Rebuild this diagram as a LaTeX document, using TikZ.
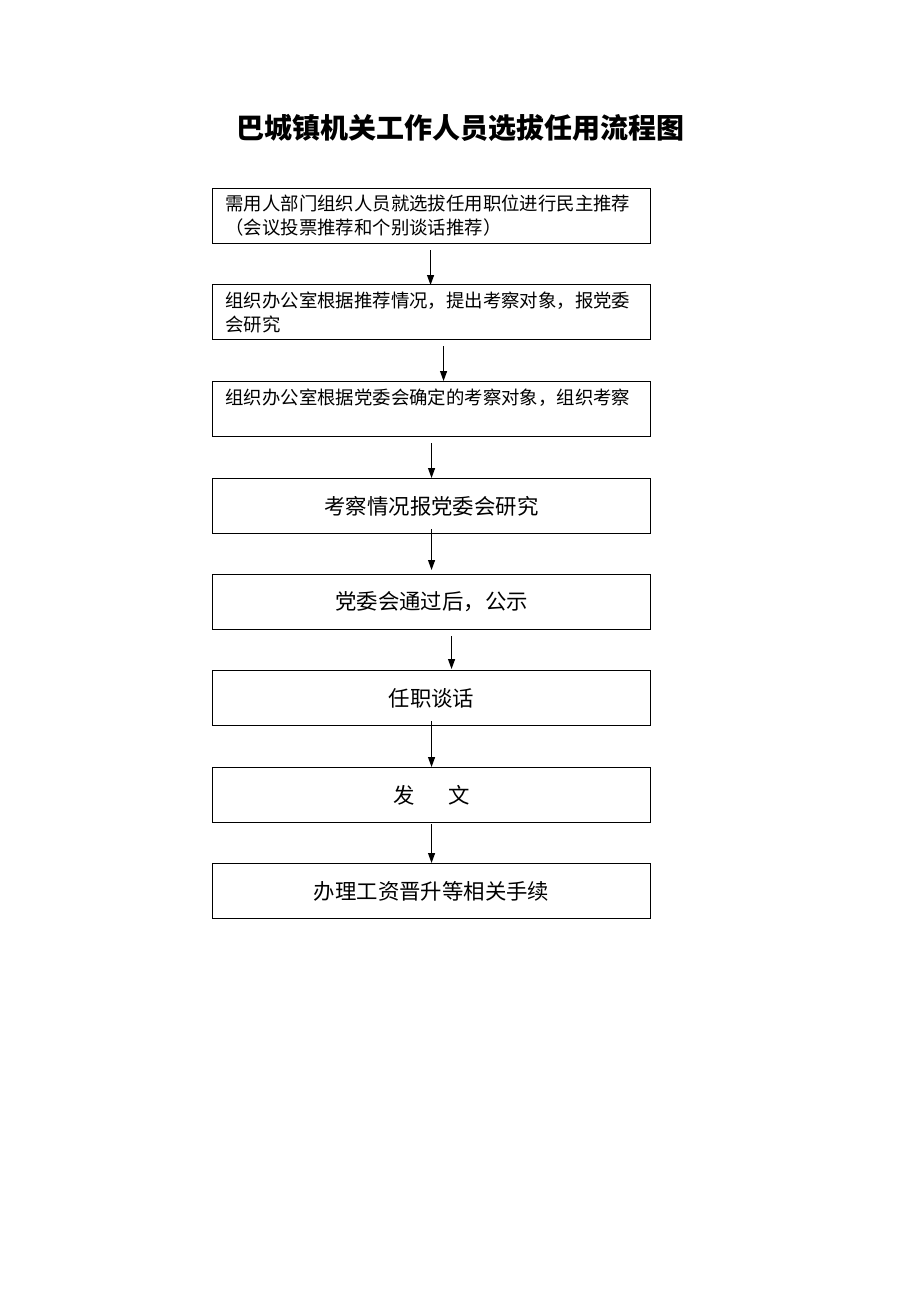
\documentclass[tikz,border=0pt]{standalone}
\usepackage{fontspec}
\newfontfamily\cjk{Noto Sans CJK SC}
\usetikzlibrary{arrows.meta}
\begin{document}
\begin{tikzpicture}[x=1pt,y=-1pt,
  box/.style={draw,line width=1.1pt,minimum width=438pt,minimum height=55pt,anchor=north west,inner sep=0pt},
  ltext/.style={box,text width=412pt,align=left,font=\cjk\fontsize{18.4}{24}\selectfont},
  ctext/.style={box,align=center,font=\cjk\fontsize{21.4}{24}\selectfont},
  arr/.style={line width=1.1pt,-{Triangle[length=10pt,width=7pt]}}]
\useasboundingbox[fill=white] (0,0) rectangle (920,1302);
\node[font=\cjk\bfseries\fontsize{28}{32}\selectfont] (title) at (460,128) {巴城镇机关工作人员选拔任用流程图};
\node[ltext] (b1) at (212,188) {需用人部门组织人员就选拔任用职位进行民主推荐\\（会议投票推荐和个别谈话推荐）};
\node[ltext] (b2) at (212,284) {组织办公室根据推荐情况，提出考察对象，报党委\\会研究};
\node[ltext] (b3) at (212,381) {组织办公室根据党委会确定的考察对象，组织考察\\\mbox{}};
\node[ctext] (b4) at (212,478) {考察情况报党委会研究};
\node[ctext] (b5) at (212,574) {党委会通过后，公示};
\node[ctext] (b6) at (212,670) {任职谈话};
\node[ctext] (b7) at (212,767) {发\hspace{33pt}文};
\node[ctext] (b8) at (212,863) {办理工资晋升等相关手续};
\draw[arr] ([xshift=-1pt,yshift=-6pt]b1.south) -- ([xshift=-1pt,yshift=-1pt]b2.north);
\draw[arr] ([xshift=12pt,yshift=-6pt]b2.south) -- ([xshift=12pt]b3.north);
\draw[arr] ([yshift=-6pt]b3.south) -- (b4.north);
\draw[arr] ([yshift=5pt]b4.south) -- ([yshift=4pt]b5.north);
\draw[arr] ([xshift=20pt,yshift=-6pt]b5.south) -- ([xshift=20pt,yshift=1pt]b6.north);
\draw[arr] ([yshift=5pt]b6.south) -- (b7.north);
\draw[arr] ([yshift=-1pt]b7.south) -- (b8.north);
\end{tikzpicture}
\end{document}
